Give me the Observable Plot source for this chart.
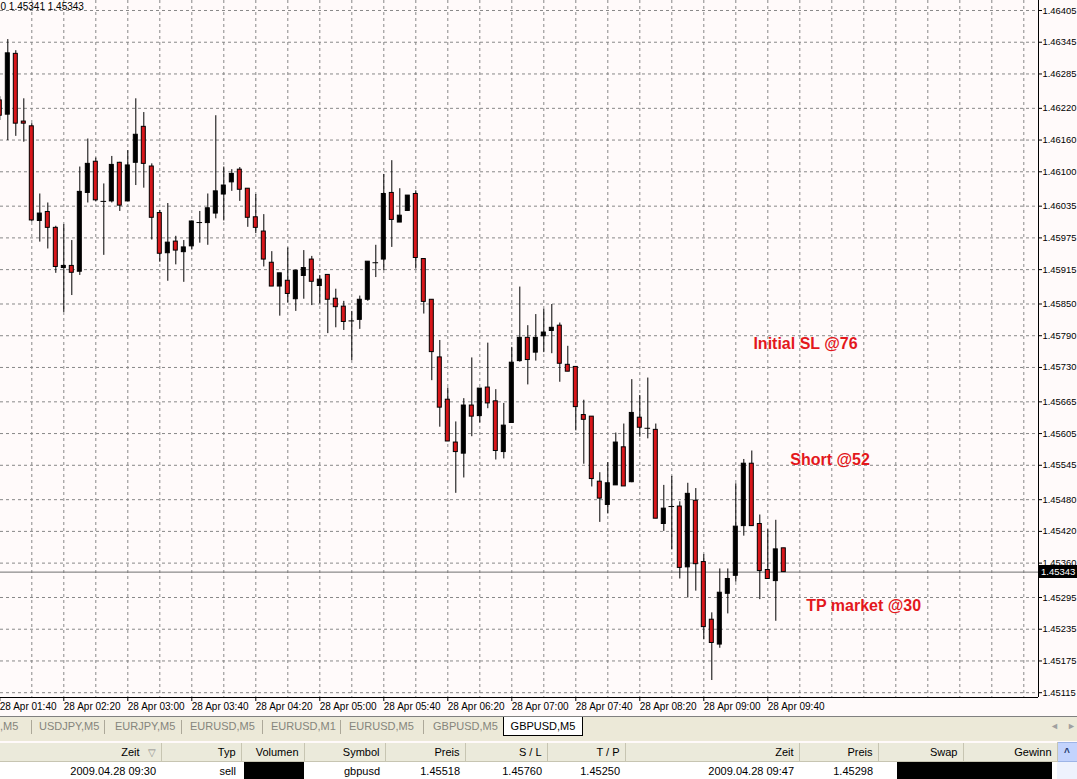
<!DOCTYPE html>
<html><head><meta charset="utf-8">
<script src="https://cdn.jsdelivr.net/npm/d3@7"></script>
<script src="https://cdn.jsdelivr.net/npm/@observablehq/plot@0.6"></script>
<style>
html,body{margin:0;padding:0;}
body{width:1077px;height:779px;overflow:hidden;background:#fffafa;font-family:"Liberation Sans",Arial,sans-serif;position:relative;}
#chart{position:absolute;left:0;top:0;}
#badge{position:absolute;left:1039px;width:38px;height:13px;background:#000;color:#fff;font-size:9.5px;line-height:13px;padding-left:2px;box-sizing:border-box;white-space:nowrap;overflow:hidden;}
#tabs{position:absolute;left:0;top:716px;width:1077px;height:25px;background:#ece9d8;border-top:1px solid #808080;box-sizing:border-box;font-size:11px;}
.tab{position:absolute;top:0;height:19px;line-height:18px;color:#85857c;white-space:nowrap;}
.sep{position:absolute;top:3px;width:1px;height:14px;background:#aca899;}
.tab.sel{background:#fff;color:#000;border:1px solid #000;border-top:none;box-sizing:border-box;text-align:center;}
.arr{position:absolute;top:4px;color:#a0a0a0;font-size:9px;}
#grid{position:absolute;left:0;top:742px;border-collapse:collapse;table-layout:fixed;font-size:11px;}
#grid td{padding:0 5px 0 0;text-align:right;white-space:nowrap;overflow:hidden;}
#grid tr.h td{height:18px;background:#ebeadb;border-right:1px solid #c7c5b2;border-bottom:1px solid #c7c5b2;color:#000;}
#grid tr.d td{height:18px;background:#fff;}
.blk{background:#000;height:18px;}
</style></head>
<body>
<div id="chart"></div>
<div id="badge"></div>
<div id="tabs"></div>
<table id="grid"></table>
<script>
// ---- data (GBPUSD M5, 28 Apr 2009) ----
const firstBar = "2009-04-28T01:40";
const barMinutes = 5;
const open  = [1.46235,1.46208,1.46323,1.46195,1.46186,1.46007,1.46024,1.45994,1.45918,1.45922,
               1.45911,1.46060,1.46119,1.46044,1.46044,1.46117,1.46044,1.46117,1.46185,1.46110,
               1.46022,1.45946,1.45968,1.45948,1.45959,1.46004,1.46003,1.46021,1.46057,1.46080,
               1.46104,1.46068,1.46014,1.45987,1.45928,1.45883,1.45894,1.45859,1.45903,1.45934,
               1.45884,1.45905,1.45860,1.45845,1.45818,1.45820,1.45858,1.45928,1.45934,1.46060,
               1.46004,1.46026,1.46058,1.45935,1.45858,1.45749,1.45669,1.45588,1.45567,1.45658,
               1.45638,1.45692,1.45666,1.45570,1.45625,1.45742,1.45786,1.45758,1.45789,1.45799,
               1.45809,1.45735,1.45731,1.45640,1.45637,1.45514,1.45470,1.45507,1.45579,1.45513,
               1.45635,1.45615,1.45612,1.45434,1.45467,1.45467,1.45352,1.45478,1.45362,1.45253,
               1.45206,1.45302,1.45336,1.45430,1.45548,1.45434,1.45347,1.45326,1.45388];
const high  = [1.46242,1.46350,1.46329,1.46238,1.46191,1.46058,1.46041,1.45997,1.46000,1.45970,
               1.46109,1.46162,1.46126,1.46077,1.46129,1.46118,1.46140,1.46238,1.46212,1.46115,
               1.46027,1.46040,1.45978,1.45970,1.46007,1.46025,1.46058,1.46206,1.46109,1.46104,
               1.46108,1.46068,1.46057,1.46019,1.45949,1.45908,1.45956,1.45914,1.45951,1.45940,
               1.45904,1.45905,1.45878,1.45855,1.45836,1.45865,1.45930,1.45961,1.46095,1.46121,
               1.46068,1.46055,1.46064,1.45935,1.45858,1.45781,1.45691,1.45627,1.45671,1.45748,
               1.45690,1.45776,1.45688,1.45662,1.45768,1.45882,1.45809,1.45830,1.45840,1.45849,
               1.45814,1.45770,1.45731,1.45668,1.45637,1.45531,1.45550,1.45606,1.45623,1.45707,
               1.45677,1.45710,1.45623,1.45507,1.45524,1.45476,1.45511,1.45501,1.45376,1.45266,
               1.45349,1.45349,1.45510,1.45556,1.45572,1.45451,1.45423,1.45441,1.45388];
const low   = [1.46197,1.46159,1.46167,1.46156,1.46005,1.45967,1.45954,1.45908,1.45834,1.45866,
               1.45904,1.46041,1.46043,1.45942,1.46041,1.46025,1.46043,1.46074,1.46069,1.45971,
               1.45929,1.45893,1.45924,1.45891,1.45952,1.45965,1.45961,1.46011,1.46007,1.46063,
               1.46044,1.45995,1.45983,1.45920,1.45883,1.45827,1.45852,1.45836,1.45859,1.45847,
               1.45850,1.45794,1.45805,1.45800,1.45743,1.45802,1.45855,1.45900,1.45913,1.45957,
               1.46004,1.46026,1.45916,1.45831,1.45705,1.45617,1.45590,1.45492,1.45521,1.45599,
               1.45625,1.45652,1.45555,1.45557,1.45625,1.45740,1.45697,1.45742,1.45758,1.45756,
               1.45702,1.45722,1.45610,1.45547,1.45504,1.45437,1.45453,1.45507,1.45505,1.45512,
               1.45598,1.45595,1.45444,1.45420,1.45385,1.45330,1.45294,1.45307,1.45215,1.45138,
               1.45199,1.45264,1.45324,1.45411,1.45430,1.45291,1.45330,1.45250,1.45343];
const close = [1.46206,1.46324,1.46191,1.46191,1.46008,1.46021,1.45994,1.45920,1.45922,1.45909,
               1.46062,1.46115,1.46046,1.46044,1.46113,1.46036,1.46112,1.46170,1.46115,1.46013,
               1.45945,1.45966,1.45951,1.45957,1.46006,1.46004,1.46031,1.46063,1.46074,1.46096,
               1.46066,1.46013,1.45994,1.45934,1.45883,1.45908,1.45869,1.45913,1.45918,1.45892,
               1.45896,1.45858,1.45844,1.45816,1.45818,1.45858,1.45930,1.45928,1.46058,1.46009,
               1.46017,1.46055,1.45937,1.45854,1.45759,1.45654,1.45590,1.45570,1.45658,1.45637,
               1.45690,1.45662,1.45572,1.45620,1.45739,1.45786,1.45744,1.45786,1.45796,1.45805,
               1.45737,1.45722,1.45655,1.45631,1.45519,1.45482,1.45511,1.45588,1.45505,1.45644,
               1.45616,1.45615,1.45444,1.45463,1.45467,1.45351,1.45491,1.45358,1.45239,1.45209,
               1.45304,1.45330,1.45429,1.45548,1.45430,1.45345,1.45330,1.45386,1.45343];
const priceTicks = [1.46405,1.46345,1.46285,1.46220,1.46160,1.46100,1.46035,1.45975,1.45915,1.45850,1.45790,
                    1.45730,1.45665,1.45605,1.45545,1.45480,1.45420,1.45360,1.45295,1.45235,1.45175,1.45115];
const timeTicks = ["01:40","02:20","03:00","03:40","04:20","05:00","05:40","06:20","07:00","07:40","08:20","09:00","09:40"];
const currentPrice = 1.45343;
const infoLine = "0 1.45341 1.45343";
const noteLabels = ["Initial SL @76","Short @52","TP market @30"];
const noteTimes  = ["09:31","09:54","10:04"];
const notePrices = [1.45775,1.45556,1.45280];
const tabLabels = [",M5","USDJPY,M5","EURJPY,M5","EURUSD,M5","EURUSD,M1","EURUSD,M5","GBPUSD,M5","GBPUSD,M5"];
const headers = ["Zeit","Typ","Volumen","Symbol","Preis","S / L","T / P","Zeit","Preis","Swap","Gewinn"];
const row = ["2009.04.28 09:30","sell","","gbpusd","1.45518","1.45760","1.45250","2009.04.28 09:47","1.45298","",""];

// ---- build ----
const day = "2009-04-28T";
const parseT = s => new Date(day + s);
const t0 = new Date(firstBar);
const bars = open.map((o, i) => ({
  t: d3.timeMinute.offset(t0, barMinutes * i), o, h: high[i], l: low[i], c: close[i]
}));
const xDomain = [d3.timeSecond.offset(t0, 26), d3.timeSecond.offset(t0, 38951)];
const yDomain = [1.451059, 1.464239];
const vGrid = d3.timeMinute.every(20).range(t0, xDomain[1]).filter(d => d > xDomain[0]);
const xTickDates = timeTicks.map(parseT);
const notes = noteLabels.map((s, i) => ({label: s, t: parseT(noteTimes[i]), p: notePrices[i]}));
const half = 75; // seconds, half body width
const dojis = bars.filter(d => d.o === d.c);
const bodies = bars.filter(d => d.o !== d.c);
const red = "#d8161a";
const gridStroke = "#888888";

const chart = Plot.plot({
  width: 1077, height: 716,
  marginLeft: 0, marginRight: 39, marginTop: 0, marginBottom: 19,
  style: {background: "#fffafa", fontFamily: "Liberation Sans, Arial, sans-serif", fontSize: "10px", color: "#000", overflow: "visible"},
  x: {type: "time", domain: xDomain},
  y: {domain: yDomain},
  marks: [
    Plot.ruleX(vGrid, {stroke: gridStroke, strokeDasharray: "3,3"}),
    Plot.ruleY(priceTicks, {stroke: gridStroke, strokeDasharray: "3,3"}),
    Plot.ruleY([currentPrice], {stroke: "#707070"}),
    Plot.ruleX(bars, {x: "t", y1: "l", y2: "h", stroke: "#000", clip: true}),
    Plot.rect(bodies, {
      x1: d => d3.timeSecond.offset(d.t, -half), x2: d => d3.timeSecond.offset(d.t, half),
      y1: "o", y2: "c", fill: d => d.c > d.o ? "#000" : red, stroke: "#000", strokeWidth: 1, clip: true
    }),
    Plot.ruleY(dojis, {y: "o", x1: d => d3.timeSecond.offset(d.t, -half - 30), x2: d => d3.timeSecond.offset(d.t, half + 30), stroke: "#000", clip: true}),
    Plot.ruleY([yDomain[0]], {stroke: "#000"}),
    Plot.ruleX([xDomain[1]], {stroke: "#000"}),
    Plot.axisY(priceTicks, {anchor: "right", tickFormat: d => d.toFixed(5), tickSize: 3, tickPadding: 1, fontSize: 9.4, label: null}),
    Plot.axisX(xTickDates, {anchor: "bottom", tickFormat: d => "28 Apr " + d3.timeFormat("%H:%M")(d), tickSize: 4, tickPadding: 1, textAnchor: "start", dx: 0, fontSize: 10, label: null}),
    Plot.text([infoLine], {frameAnchor: "top-left", text: d => d, dx: 0, dy: 2, fontSize: 10, fill: "#000"}),
    Plot.text(notes, {x: "t", y: "p", text: "label", fill: "#e3171c", fontWeight: "bold", fontSize: 16, textAnchor: "start"})
  ]
});
document.getElementById("chart").appendChild(chart);

// current price badge positioned through the chart's own y scale
const yS = chart.scale("y");
const badge = document.getElementById("badge");
badge.textContent = currentPrice.toFixed(5);
badge.style.top = (yS.apply(currentPrice) - 6.5) + "px";

// tabs
const tabs = document.getElementById("tabs");
const tabLeft = [0, 39, 115, 190, 271, 349, 433, 503];
const sepLeft = [31, 104, 181, 262, 340, 423];
tabLabels.forEach((s, i) => {
  const el = document.createElement("div");
  el.className = "tab" + (i === tabLabels.length - 1 ? " sel" : "");
  el.textContent = s;
  el.style.left = tabLeft[i] + "px";
  if (i === tabLabels.length - 1) { el.style.width = "80px"; }
  tabs.appendChild(el);
});
sepLeft.forEach(x => { const s = document.createElement("div"); s.className = "sep"; s.style.left = x + "px"; tabs.appendChild(s); });
[["◄",1050],["►",1067]].forEach(([c,x]) => { const a = document.createElement("div"); a.className = "arr"; a.textContent = c; a.style.left = x + "px"; tabs.appendChild(a); });

// table
const widths = [161,80,63,81,80,82,78,174,79,85,94,20];
const tbl = document.getElementById("grid");
const cg = document.createElement("colgroup");
widths.forEach(w => { const c = document.createElement("col"); c.style.width = w + "px"; cg.appendChild(c); });
tbl.appendChild(cg);
tbl.style.width = "1077px";
const hr = document.createElement("tr"); hr.className = "h";
headers.forEach((h, i) => {
  const td = document.createElement("td");
  td.textContent = h;
  if (i === 0) { const sp = document.createElement("span"); sp.textContent = "▽"; sp.style.cssText = "margin-left:8px;color:#888;font-size:10px"; td.appendChild(sp); }
  hr.appendChild(td);
});
const sc = document.createElement("td"); sc.style.cssText = "background:#c3d3fd;border:1px solid #9db4e6;padding:0;text-align:center;color:#20376b;font-size:10px;font-weight:bold"; sc.textContent = "^"; hr.appendChild(sc);
tbl.appendChild(hr);
const dr = document.createElement("tr"); dr.className = "d";
row.forEach((v, i) => {
  if (i === 10) return;
  const td = document.createElement("td");
  if (i === 2) { td.style.padding = "0 0 0 3px"; const b = document.createElement("div"); b.className = "blk"; td.appendChild(b); }
  else if (i === 9) { td.colSpan = 2; td.style.padding = "0 5px 0 19px"; const b = document.createElement("div"); b.className = "blk"; td.appendChild(b); }
  else td.textContent = v;
  dr.appendChild(td);
});
const sc2 = document.createElement("td"); sc2.style.cssText = "background:#eef2fd;padding:0"; dr.appendChild(sc2);
tbl.appendChild(dr);
</script>
</body></html>
